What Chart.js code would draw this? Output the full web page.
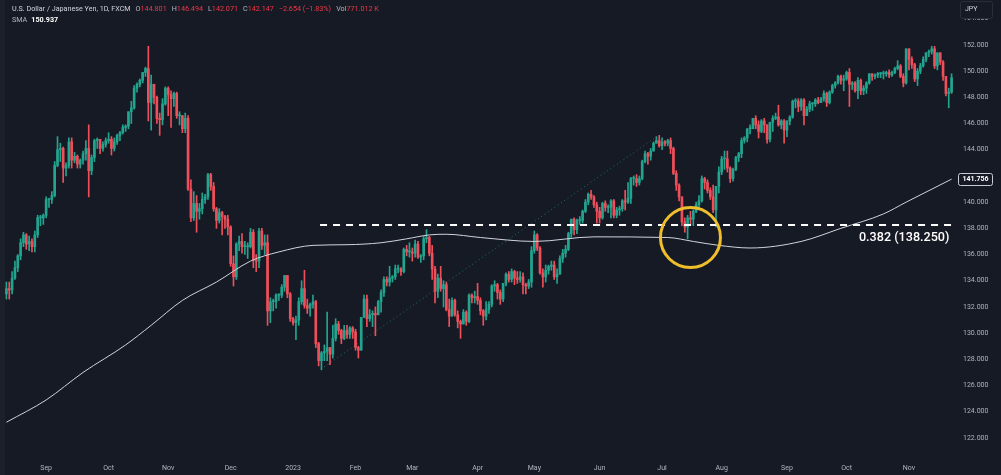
<!DOCTYPE html>
<html>
<head>
<meta charset="utf-8">
<title>USDJPY 1D</title>
<script src="https://cdn.jsdelivr.net/npm/chart.js@4/dist/chart.umd.min.js"></script>
<style>
  html, body { margin: 0; padding: 0; background: #161a25; }
  #wrap { position: relative; width: 1001px; height: 475px; overflow: hidden; }
  #edge { position: absolute; left: 0; top: 0; width: 5px; height: 475px; background: #1c202b; }
  #legend { position: absolute; left: 12px; top: 4px; font-family: Roboto, sans-serif; font-size: 7.2px; line-height: 10.5px; color: #d1d4dc; white-space: nowrap; z-index: 2; }
  #legend .g { margin-left: 5px; color: #b2b5be; }
  #legend .r { color: #f23645; }
  #legend b { color: #ffffff; margin-left: 4px; }
</style>
</head>
<body>
<div id="wrap">
  <div id="edge"></div>
  <canvas id="chart" width="1001" height="475"></canvas>
  <div id="legend">
    <div>U.S. Dollar / Japanese Yen, 1D, FXCM<span class="g">O<span class="r">144.801</span></span><span class="g">H<span class="r">146.494</span></span><span class="g">L<span class="r">142.071</span></span><span class="g">C<span class="r">142.147</span></span><span class="g"><span class="r">−2.654 (−1.83%)</span></span><span class="g">Vol<span class="r">771.012 K</span></span></div>
    <div><span style="color:#b2b5be">SMA</span><b>150.937</b></div>
  </div>
</div>
<script>
// month ticks (bar index of first trading day)
const monthLabels = ['Sep', 'Oct', 'Nov', 'Dec', '2023', 'Feb', 'Mar', 'Apr', 'May', 'Jun', 'Jul', 'Aug', 'Sep', 'Oct', 'Nov'];
const monthStart = [14, 36, 57, 79, 101, 123, 143, 166, 186, 209, 231, 252, 275, 296, 318];
const priceTicks = [122, 124, 126, 128, 130, 132, 134, 136, 138, 140, 142, 144, 146, 148, 150, 152, 154];

// daily candles, 12 Aug 2022 .. 22 Nov 2023 (open = previous close)
const firstOpen = 133.0;
const close = [
  133.4,133.3,134.2,135.0,135.9,136.9,137.5,136.8,137.0,136.6,137.5,138.8,138.8,139.0,
  140.2,140.2,140.5,142.8,144.0,144.1,142.6,142.8,144.6,143.2,143.5,142.9,143.2,143.7,144.1,142.4,143.4,144.7,144.8,144.1,144.4,144.7,
  144.8,144.1,144.6,145.1,145.3,145.7,145.8,146.9,147.2,148.7,149.0,149.3,149.9,150.2,147.6,149.0,148.0,146.4,146.3,147.5,148.7,
  148.2,147.9,148.3,146.6,146.6,145.6,146.4,141.0,138.8,139.9,139.3,139.5,140.2,140.4,142.1,141.2,139.5,138.6,139.2,138.9,138.7,138.1,
  135.3,134.3,136.8,137.0,136.6,136.6,136.6,137.7,135.6,135.5,137.8,136.7,136.9,131.7,132.4,132.4,132.9,132.9,133.5,134.4,133.0,131.1,
  130.8,131.0,132.4,133.4,132.1,131.9,132.2,132.4,129.2,127.9,128.5,128.6,128.9,128.4,129.6,130.7,130.2,129.6,130.2,129.9,130.4,130.1,
  128.9,128.7,131.2,132.6,131.1,131.4,131.5,131.4,132.4,133.1,134.1,133.9,134.2,134.3,134.9,134.9,134.7,136.4,136.2,136.2,
  136.1,136.8,135.8,135.9,137.2,137.3,136.1,134.9,133.2,134.2,133.4,133.7,131.8,131.3,132.5,131.4,130.9,130.7,131.6,130.9,132.9,132.7,132.8,
  132.5,131.7,131.3,131.8,132.2,133.6,133.7,133.1,132.6,133.8,134.5,134.1,134.7,134.2,134.1,134.3,133.7,133.6,133.9,136.3,
  137.5,136.5,134.6,134.3,134.8,135.1,135.2,134.3,134.5,135.7,136.1,136.4,137.6,138.7,137.9,138.6,138.6,139.3,140.0,140.6,140.4,139.8,139.3,
  138.8,139.9,139.6,139.6,140.1,139.0,139.4,139.5,140.1,140.0,140.3,141.8,141.8,141.5,141.8,143.1,143.7,143.5,143.9,144.5,144.7,144.3,
  144.6,144.5,144.7,144.1,142.2,141.3,140.4,138.5,138.1,138.8,138.7,139.3,139.8,140.1,141.8,141.5,140.9,140.4,139.4,141.2,142.3,
  143.3,143.3,142.6,141.8,142.5,143.4,143.7,144.7,144.9,145.6,145.6,146.4,145.9,145.4,146.2,145.9,144.8,146.1,146.4,146.5,145.9,146.2,145.5,
  146.2,146.5,147.7,147.7,147.3,147.8,146.6,147.1,147.5,147.5,147.8,147.6,147.9,148.3,147.6,148.4,148.9,149.1,149.6,149.3,149.4,
  149.9,149.0,149.1,148.5,149.3,148.5,148.7,149.1,149.8,149.6,149.7,149.8,149.8,149.8,149.9,149.7,149.9,150.2,150.4,149.6,149.1,151.7,
  150.9,150.5,149.4,150.0,150.4,150.9,151.4,151.5,151.7,150.4,151.4,150.7,149.6,148.3,148.4,149.5
];
const high = [
  133.9,133.9,134.7,135.5,136.0,137.2,137.7,137.6,137.4,137.2,137.8,139.0,139.0,139.1,
  140.4,140.3,140.8,143.1,145.0,144.5,144.2,143.0,144.9,144.9,143.8,143.6,143.3,143.9,144.7,145.9,143.6,144.8,144.9,144.8,144.6,144.9,
  145.3,145.0,144.9,145.2,145.4,145.9,145.9,146.9,147.7,148.9,149.1,149.4,149.9,150.3,151.9,149.7,149.0,148.1,146.8,147.9,148.8,
  148.8,148.5,148.4,148.4,146.9,146.6,146.8,146.6,141.7,140.8,140.5,139.9,140.7,140.6,142.2,142.2,141.5,139.6,139.5,139.3,139.0,139.0,
  138.2,135.9,136.9,137.4,137.6,137.0,136.9,138.0,137.9,136.0,138.0,138.0,137.5,137.5,132.7,132.6,133.0,133.0,133.7,134.4,134.4,133.1,
  131.2,131.3,132.7,134.0,134.8,132.6,132.3,132.9,132.5,129.3,128.6,129.1,131.6,128.9,130.6,131.1,130.9,130.3,130.6,130.6,130.5,130.5,
  130.3,129.0,131.2,132.9,132.9,131.8,131.7,132.0,132.5,133.3,134.3,134.3,135.1,134.4,135.2,135.2,135.0,136.5,136.7,136.9,
  136.5,137.1,137.0,136.0,137.4,137.9,137.4,136.7,135.1,134.5,135.1,134.0,133.9,132.6,132.7,132.6,131.7,131.0,131.8,131.7,133.0,133.0,133.2,
  133.8,132.7,131.8,132.4,132.4,133.7,134.0,133.8,133.3,133.8,134.6,134.7,134.9,134.8,134.7,134.7,134.6,133.8,134.1,136.6,
  137.8,137.6,136.6,134.9,135.2,135.2,135.5,135.5,134.9,135.9,136.4,136.7,137.7,138.7,138.8,138.7,138.9,139.4,140.2,140.7,140.9,140.5,140.0,
  139.6,140.0,140.1,139.8,140.2,140.2,139.6,139.7,140.2,140.9,141.5,141.9,142.0,142.1,142.0,143.2,143.9,143.8,144.1,144.6,145.0,145.1,
  144.9,144.7,144.8,144.9,144.2,142.4,141.4,140.4,138.8,139.0,139.3,139.4,140.0,140.5,142.0,141.9,141.7,141.1,141.3,141.2,142.7,
  143.5,143.9,143.9,142.7,142.6,143.5,143.8,144.9,145.0,145.6,145.9,146.4,146.6,146.2,146.3,146.4,145.9,146.1,146.6,146.8,147.4,146.3,146.3,
  146.2,146.6,147.8,147.9,147.9,147.9,147.9,147.3,147.7,147.6,147.9,148.0,148.0,148.5,148.4,148.5,149.0,149.2,149.7,149.7,149.7,
  150.0,150.2,149.2,149.2,149.5,149.4,148.9,149.2,149.8,149.8,149.8,149.9,149.9,150.0,150.0,150.1,150.0,150.3,150.8,150.5,149.8,151.7,
  151.7,151.1,150.6,150.2,150.6,151.1,151.4,151.6,151.9,151.9,151.4,151.4,150.8,149.6,148.7,149.8
];
const low = [
  132.6,132.6,133.0,134.1,134.7,135.6,136.6,136.4,136.3,136.2,136.2,137.3,138.2,138.3,
  138.8,139.6,139.9,140.4,142.7,143.1,141.5,142.0,142.6,142.6,143.0,142.6,142.6,142.9,143.2,140.4,142.1,143.1,144.1,143.7,143.9,144.2,
  144.5,143.6,143.9,144.4,144.7,145.2,145.4,145.6,146.0,147.1,148.4,148.8,149.1,149.6,146.2,145.5,147.5,146.0,145.1,145.9,147.4,
  146.6,145.7,147.3,146.4,145.9,145.3,145.3,140.9,138.5,138.6,137.7,138.7,139.1,139.9,140.2,140.9,139.3,138.0,138.4,137.5,138.0,137.5,
  135.1,133.6,134.1,136.3,136.1,136.0,135.7,136.5,135.0,134.7,135.0,136.4,136.0,130.6,130.8,131.7,131.9,132.5,132.7,133.2,132.7,130.9,
  130.6,129.5,130.6,132.2,131.9,131.5,131.3,131.9,128.9,127.5,127.2,127.9,127.9,127.6,128.1,129.4,129.9,129.2,129.5,129.6,129.6,129.6,
  128.7,128.1,128.7,131.2,130.5,130.9,130.5,129.8,131.4,131.6,132.8,133.6,133.6,133.9,134.1,134.6,134.4,134.6,135.9,135.8,
  135.5,135.8,135.7,135.4,135.6,136.9,135.9,134.1,132.3,132.7,133.2,132.0,131.7,130.5,131.3,131.3,130.4,129.6,130.7,130.6,130.8,132.3,132.3,
  132.2,131.4,130.6,131.0,131.5,132.0,133.2,132.6,132.2,132.4,133.6,133.9,133.9,133.7,133.8,133.9,133.0,133.0,133.4,133.5,
  136.1,136.3,134.5,133.5,133.9,134.5,134.8,134.1,133.8,134.5,135.4,135.8,136.3,137.3,137.5,137.6,138.3,138.4,139.2,139.8,140.2,139.6,138.4,
  138.4,138.7,139.3,139.2,138.8,138.8,138.8,139.0,139.3,139.4,139.9,139.9,141.3,141.2,141.3,141.7,143.0,142.9,143.2,143.9,144.5,144.2,
  144.0,144.3,144.3,143.7,142.1,140.9,140.1,138.2,137.7,137.2,138.3,138.2,139.2,139.5,140.0,141.0,140.7,140.2,139.2,138.1,140.7,
  142.1,142.5,142.3,141.5,141.6,142.4,143.1,143.4,144.5,144.6,145.2,145.6,145.6,144.9,145.3,145.3,144.5,144.6,145.4,146.3,145.8,145.6,144.5,
  145.0,145.9,146.4,147.2,146.9,147.0,145.9,146.6,146.9,147.0,147.3,147.5,147.6,147.7,147.3,147.5,148.3,148.7,149.0,149.0,148.5,
  149.3,147.3,148.6,148.4,147.9,148.2,148.2,148.3,149.0,149.3,149.4,149.5,149.5,149.4,149.6,149.5,149.6,149.8,150.1,149.5,148.8,149.0,
  150.1,150.2,149.2,148.9,149.8,150.3,150.7,151.1,151.3,150.2,150.1,150.5,149.3,148.1,147.2,148.3
];

// 200-day SMA (bar index, value)
const smaIdx = [0, 14, 27, 42, 51, 62, 74, 86, 96, 108, 120, 132, 141, 149, 155, 167, 186, 207, 233, 242, 251, 262, 280, 294, 309, 317, 333];
const smaVal = [123.2, 124.9, 127.0, 129.1, 130.6, 132.5, 133.9, 135.5, 136.2, 136.7, 136.75, 136.9, 137.2, 137.5, 137.55, 137.3, 137.0, 137.35, 137.3, 137.0, 136.7, 136.5, 137.0, 138.0, 139.1, 140.0, 141.756];
const smaLast = 141.756;

// drawings
const trendIdx = [110.8, 228.5];
const trendVal = [127.25, 144.9];
const fibLevel = 138.25;
const fibIdx = [110.5, 333.3];
const fibText = '0.382 (138.250)';
const circleIdx = 241;
const circleVal = 137.3;

const upColor = '#22a48f';
const downColor = '#ef4f5a';
const axisColor = '#b2b5be';

const open = close.map((c, i) => i === 0 ? firstOpen : close[i - 1]);
const colors = close.map((c, i) => c >= open[i] ? upColor : downColor);

const overlays = {
    id: 'overlays',
    afterDatasetsDraw(chart) {
        const c = chart.ctx;
        const xs = chart.scales.x;
        const ys = chart.scales.y;
        c.save();

        // fib level caption
        c.font = '500 12.6px Roboto';
        c.fillStyle = '#ffffff';
        c.textAlign = 'right';
        c.textBaseline = 'middle';
        c.fillText(fibText, xs.getPixelForValue(fibIdx[1]) - 3, ys.getPixelForValue(fibLevel) + 13);

        // SMA value on the price scale
        const sy = Math.round(ys.getPixelForValue(smaLast)) + 0.5;
        c.fillStyle = '#161a25';
        c.strokeStyle = '#c9ccd4';
        c.lineWidth = 1;
        c.beginPath();
        c.roundRect(958.5, sy - 6, 34, 12, 2);
        c.fill();
        c.stroke();
        c.fillStyle = '#ffffff';
        c.font = 'bold 7px Roboto';
        c.textAlign = 'center';
        c.fillText(smaLast.toFixed(3), 975.5, sy);

        // currency box (covers most of the top price label)
        c.fillStyle = '#161a25';
        c.strokeStyle = '#2a2e39';
        c.beginPath();
        c.roundRect(960.5, 1.5, 32, 17, 2);
        c.fill();
        c.stroke();
        c.fillStyle = '#d1d4dc';
        c.font = '7px Roboto';
        c.textAlign = 'left';
        c.fillText('JPY', 965, 9);
        c.restore();
    }
};

new Chart(document.getElementById('chart'), {
    type: 'bar',
    data: {
        datasets: [
            {
                label: 'wick',
                data: close.map((c, i) => ({ x: i, y: [low[i], high[i]] })),
                backgroundColor: colors,
                barThickness: 1,
                grouped: false,
                order: 6
            },
            {
                label: 'body',
                data: close.map((c, i) => ({ x: i, y: [open[i], c] })),
                backgroundColor: colors,
                barThickness: 2,
                minBarLength: 1,
                grouped: false,
                order: 5
            },
            {
                type: 'line',
                label: 'SMA',
                data: smaIdx.map((x, k) => ({ x: x, y: smaVal[k] })),
                borderColor: '#d1d4dc',
                borderWidth: 1,
                pointRadius: 0,
                cubicInterpolationMode: 'monotone',
                order: 4
            },
            {
                type: 'line',
                label: 'trend',
                data: trendIdx.map((x, k) => ({ x: x, y: trendVal[k] })),
                borderColor: 'rgba(38,166,154,0.6)',
                borderWidth: 1,
                borderDash: [1, 3],
                pointRadius: 0,
                order: 3
            },
            {
                type: 'line',
                label: 'fib',
                data: fibIdx.map(x => ({ x: x, y: fibLevel })),
                borderColor: '#ffffff',
                borderWidth: 2,
                borderDash: [7, 6],
                pointRadius: 0,
                order: 2
            },
            {
                type: 'line',
                label: 'mark',
                data: [{ x: circleIdx, y: circleVal }],
                showLine: false,
                pointRadius: 30,
                pointBorderWidth: 3,
                pointBorderColor: '#efbe2c',
                pointBackgroundColor: 'rgba(0,0,0,0)',
                order: 1
            }
        ]
    },
    options: {
        responsive: false,
        animation: false,
        events: [],
        layout: { autoPadding: false, padding: { left: 5, top: 0, right: 0, bottom: 0 } },
        plugins: { legend: { display: false }, tooltip: { enabled: false } },
        scales: {
            x: {
                type: 'linear',
                min: -0.5,
                max: 333.5,
                offset: false,
                grid: { display: false, drawTicks: false },
                border: { display: false },
                ticks: {
                    autoSkip: false,
                    maxRotation: 0,
                    padding: 14,
                    color: axisColor,
                    font: { family: 'Roboto', size: 7 },
                    callback: v => {
                        const k = monthStart.indexOf(v);
                        return k < 0 ? '' : monthLabels[k];
                    }
                },
                afterBuildTicks: s => { s.ticks = monthStart.map(v => ({ value: v })); },
                afterFit: s => { s.height = 25; s.paddingLeft = 0; s.paddingRight = 0; }
            },
            y: {
                position: 'right',
                min: 121.08,
                max: 155.43,
                grid: { display: false, drawTicks: false },
                border: { display: false },
                ticks: {
                    padding: 10,
                    color: axisColor,
                    font: { family: 'Roboto', size: 7 },
                    callback: v => v.toFixed(3)
                },
                afterBuildTicks: s => { s.ticks = priceTicks.map(v => ({ value: v })); },
                afterFit: s => { s.width = 48; s.paddingTop = 0; s.paddingBottom = 0; }
            }
        }
    },
    plugins: [overlays]
});
</script>
</body>
</html>
